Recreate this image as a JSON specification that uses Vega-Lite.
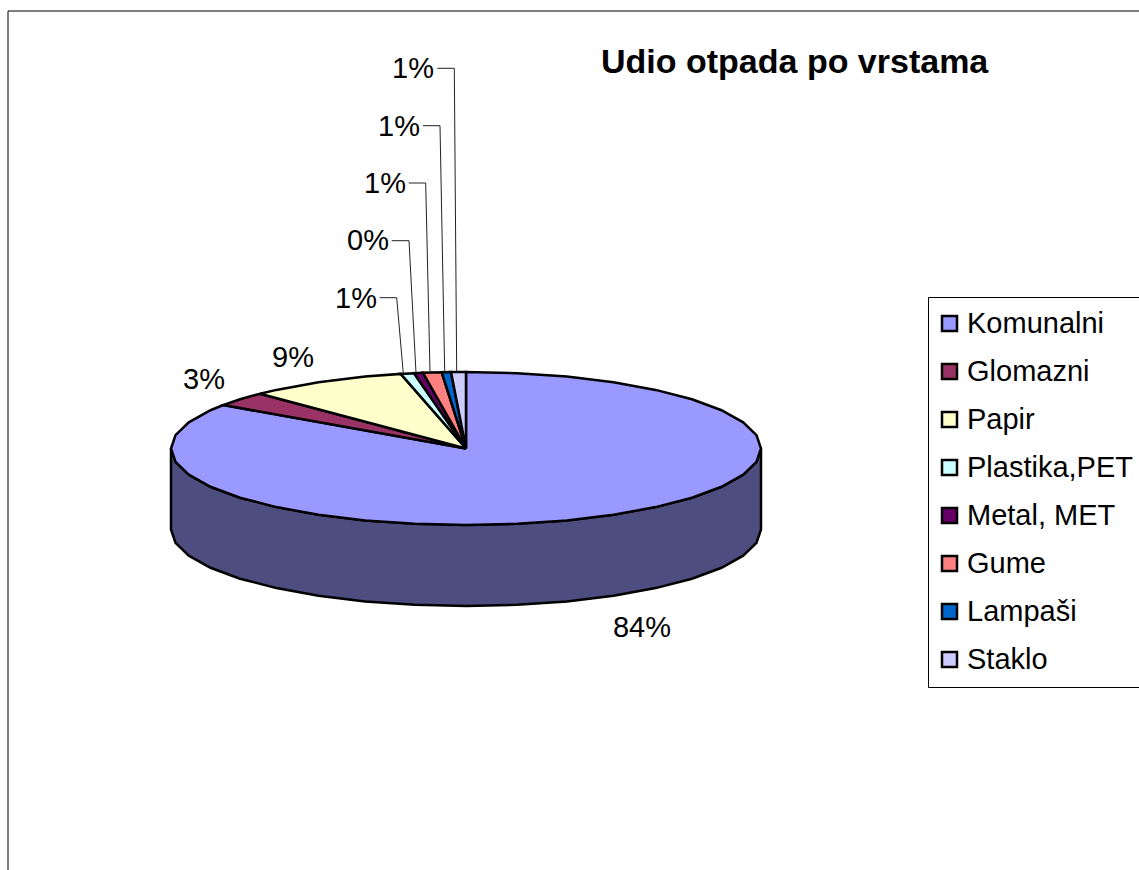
{"$schema":"https://vega.github.io/schema/vega-lite/v6.json","width":1139,"height":870,"padding":0,"autosize":{"type":"none"},"background":"white","view":{"stroke":null},
"title":{"text":"Udio otpada po vrstama","font":"Liberation Sans","fontSize":34,"fontWeight":"bold","color":"black","anchor":"start","frame":"group","dx":601,"dy":80,"baseline":"top","offset":0},
"config":{"font":"Liberation Sans"},
"encoding":{"x":{"field":"x","type":"quantitative","axis":null,"scale":{"domain":[-466,673],"nice":false,"zero":false}},"y":{"field":"y","type":"quantitative","axis":null,"scale":{"domain":[-421.5,448.5],"nice":false,"zero":false}}},
"layer":[
{"data":{"values":[{"x":-458,"y":-421.5,"i":0},{"x":-458,"y":437.5,"i":1},{"x":673,"y":437.5,"i":2}]},"mark":{"type":"line","stroke":"black","strokeWidth":1,"clip":false},"encoding":{"order":{"field":"i"}}},
{"data":{"values":[{"x":295,"y":0,"i":0},{"x":290.5,"y":-13.3,"i":1},{"x":277.2,"y":-26.2,"i":2},{"x":255.5,"y":-38.25,"i":3},{"x":226,"y":-49.2,"i":4},{"x":189.6,"y":-58.6,"i":5},{"x":147.5,"y":-66.3,"i":6},{"x":100.9,"y":-71.9,"i":7},{"x":51.2,"y":-75.3,"i":8},{"x":0,"y":-76.5,"i":9},{"x":-51.2,"y":-75.3,"i":10},{"x":-100.9,"y":-71.9,"i":11},{"x":-147.5,"y":-66.3,"i":12},{"x":-189.6,"y":-58.6,"i":13},{"x":-226,"y":-49.2,"i":14},{"x":-255.5,"y":-38.25,"i":15},{"x":-277.2,"y":-26.2,"i":16},{"x":-290.5,"y":-13.3,"i":17},{"x":-295,"y":0,"i":18},{"x":-295,"y":-81,"i":19},{"x":-290.5,"y":-94.3,"i":20},{"x":-277.2,"y":-107.2,"i":21},{"x":-255.5,"y":-119.25,"i":22},{"x":-226,"y":-130.2,"i":23},{"x":-189.6,"y":-139.6,"i":24},{"x":-147.5,"y":-147.3,"i":25},{"x":-100.9,"y":-152.9,"i":26},{"x":-51.2,"y":-156.3,"i":27},{"x":0,"y":-157.5,"i":28},{"x":51.2,"y":-156.3,"i":29},{"x":100.9,"y":-152.9,"i":30},{"x":147.5,"y":-147.3,"i":31},{"x":189.6,"y":-139.6,"i":32},{"x":226,"y":-130.2,"i":33},{"x":255.5,"y":-119.25,"i":34},{"x":277.2,"y":-107.2,"i":35},{"x":290.5,"y":-94.3,"i":36},{"x":295,"y":-81,"i":37},{"x":295,"y":0,"i":38}]},"mark":{"type":"line","fill":"#4d4d80","stroke":"black","strokeWidth":2.5},"encoding":{"order":{"field":"i"}}},
{"data":{"values":[
{"v":"Komunalni","x":0,"y":0,"i":0},{"v":"Komunalni","x":0,"y":76.5,"i":1},{"v":"Komunalni","x":51.2,"y":75.3,"i":2},{"v":"Komunalni","x":100.9,"y":71.9,"i":3},{"v":"Komunalni","x":147.5,"y":66.3,"i":4},{"v":"Komunalni","x":189.6,"y":58.6,"i":5},{"v":"Komunalni","x":226,"y":49.2,"i":6},{"v":"Komunalni","x":255.5,"y":38.25,"i":7},{"v":"Komunalni","x":277.2,"y":26.2,"i":8},{"v":"Komunalni","x":290.5,"y":13.3,"i":9},{"v":"Komunalni","x":295,"y":0,"i":10},{"v":"Komunalni","x":290.5,"y":-13.3,"i":11},{"v":"Komunalni","x":277.2,"y":-26.2,"i":12},{"v":"Komunalni","x":255.5,"y":-38.25,"i":13},{"v":"Komunalni","x":226,"y":-49.2,"i":14},{"v":"Komunalni","x":189.6,"y":-58.6,"i":15},{"v":"Komunalni","x":147.5,"y":-66.3,"i":16},{"v":"Komunalni","x":100.9,"y":-71.9,"i":17},{"v":"Komunalni","x":51.2,"y":-75.3,"i":18},{"v":"Komunalni","x":0,"y":-76.5,"i":19},{"v":"Komunalni","x":-51.2,"y":-75.3,"i":20},{"v":"Komunalni","x":-100.9,"y":-71.9,"i":21},{"v":"Komunalni","x":-147.5,"y":-66.3,"i":22},{"v":"Komunalni","x":-189.6,"y":-58.6,"i":23},{"v":"Komunalni","x":-226,"y":-49.2,"i":24},{"v":"Komunalni","x":-255.5,"y":-38.25,"i":25},{"v":"Komunalni","x":-277.2,"y":-26.2,"i":26},{"v":"Komunalni","x":-290.5,"y":-13.3,"i":27},{"v":"Komunalni","x":-295,"y":0,"i":28},{"v":"Komunalni","x":-290.5,"y":13.3,"i":29},{"v":"Komunalni","x":-277.2,"y":26.2,"i":30},{"v":"Komunalni","x":-255.5,"y":38.25,"i":31},{"v":"Komunalni","x":-242.7,"y":43.5,"i":32},{"v":"Komunalni","x":0,"y":0,"i":33},
{"v":"Glomazni","x":0,"y":0,"i":0},{"v":"Glomazni","x":-242.7,"y":43.5,"i":1},{"v":"Glomazni","x":-226,"y":49.2,"i":2},{"v":"Glomazni","x":-206,"y":54.8,"i":3},{"v":"Glomazni","x":0,"y":0,"i":4},
{"v":"Papir","x":0,"y":0,"i":0},{"v":"Papir","x":-206,"y":54.8,"i":1},{"v":"Papir","x":-189.6,"y":58.6,"i":2},{"v":"Papir","x":-147.5,"y":66.3,"i":3},{"v":"Papir","x":-100.9,"y":71.9,"i":4},{"v":"Papir","x":-65.3,"y":74.6,"i":5},{"v":"Papir","x":0,"y":0,"i":6},
{"v":"Plastika,PET","x":0,"y":0,"i":0},{"v":"Plastika,PET","x":-65.3,"y":74.6,"i":1},{"v":"Plastika,PET","x":-52,"y":75.3,"i":2},{"v":"Plastika,PET","x":0,"y":0,"i":3},
{"v":"Metal, MET","x":0,"y":0,"i":0},{"v":"Metal, MET","x":-52,"y":75.3,"i":1},{"v":"Metal, MET","x":-43,"y":75.7,"i":2},{"v":"Metal, MET","x":0,"y":0,"i":3},
{"v":"Gume","x":0,"y":0,"i":0},{"v":"Gume","x":-43,"y":75.7,"i":1},{"v":"Gume","x":-24.3,"y":76.2,"i":2},{"v":"Gume","x":0,"y":0,"i":3},
{"v":"Lampaši","x":0,"y":0,"i":0},{"v":"Lampaši","x":-24.3,"y":76.2,"i":1},{"v":"Lampaši","x":-15,"y":76.4,"i":2},{"v":"Lampaši","x":0,"y":0,"i":3},
{"v":"Staklo","x":0,"y":0,"i":0},{"v":"Staklo","x":-15,"y":76.4,"i":1},{"v":"Staklo","x":0,"y":76.5,"i":2},{"v":"Staklo","x":0,"y":0,"i":3}
]},"mark":{"type":"line","stroke":"black","strokeWidth":2.5,"strokeJoin":"miter"},"encoding":{"order":{"field":"i"},"fill":{"field":"v","type":"nominal","scale":{"domain":["Komunalni","Glomazni","Papir","Plastika,PET","Metal, MET","Gume","Lampaši","Staklo"],"range":["#9999ff","#993366","#ffffcc","#ccffff","#660066","#ff8080","#0066cc","#ccccff"]},"legend":{"title":null,"orient":"none","legendX":928,"legendY":297,"fillColor":"white","strokeColor":"black","padding":12,"symbolType":"square","symbolSize":225,"symbolOffset":-5,"symbolStrokeColor":"black","symbolStrokeWidth":2.5,"labelFont":"Liberation Sans","labelFontSize":29,"labelColor":"black","labelOffset":3,"rowPadding":18,"labelLimit":300,"symbolOpacity":1}}}},
{"data":{"values":[
{"s":"a","x":-28.7,"y":380.2,"i":0},{"s":"a","x":-11.7,"y":380.2,"i":1},{"s":"a","x":-9.3,"y":76.5,"i":2},
{"s":"b","x":-43,"y":322.8,"i":0},{"s":"b","x":-26,"y":322.8,"i":1},{"s":"b","x":-21.3,"y":76.5,"i":2},
{"s":"c","x":-57.3,"y":265.5,"i":0},{"s":"c","x":-40.3,"y":265.5,"i":1},{"s":"c","x":-36,"y":76.5,"i":2},
{"s":"d","x":-74.3,"y":207.8,"i":0},{"s":"d","x":-57,"y":207.8,"i":1},{"s":"d","x":-50,"y":75.5,"i":2},
{"s":"e","x":-86.3,"y":150.8,"i":0},{"s":"e","x":-69.3,"y":150.8,"i":1},{"s":"e","x":-62.7,"y":75,"i":2}
]},"mark":{"type":"line","stroke":"#222222","strokeWidth":1},"encoding":{"order":{"field":"i"},"detail":{"field":"s"}}},
{"data":{"values":[
{"t":"84%","x":176,"y":-179.5},{"t":"9%","x":-173,"y":90.5},{"t":"3%","x":-262,"y":68.5},{"t":"1%","x":-110,"y":149.5},{"t":"0%","x":-98,"y":207.5},{"t":"1%","x":-81,"y":264.5},{"t":"1%","x":-67,"y":321.5},{"t":"1%","x":-53,"y":379.5}
]},"mark":{"type":"text","font":"Liberation Sans","fontSize":29,"color":"black","align":"center","baseline":"middle"},"encoding":{"text":{"field":"t"}}}
]}
